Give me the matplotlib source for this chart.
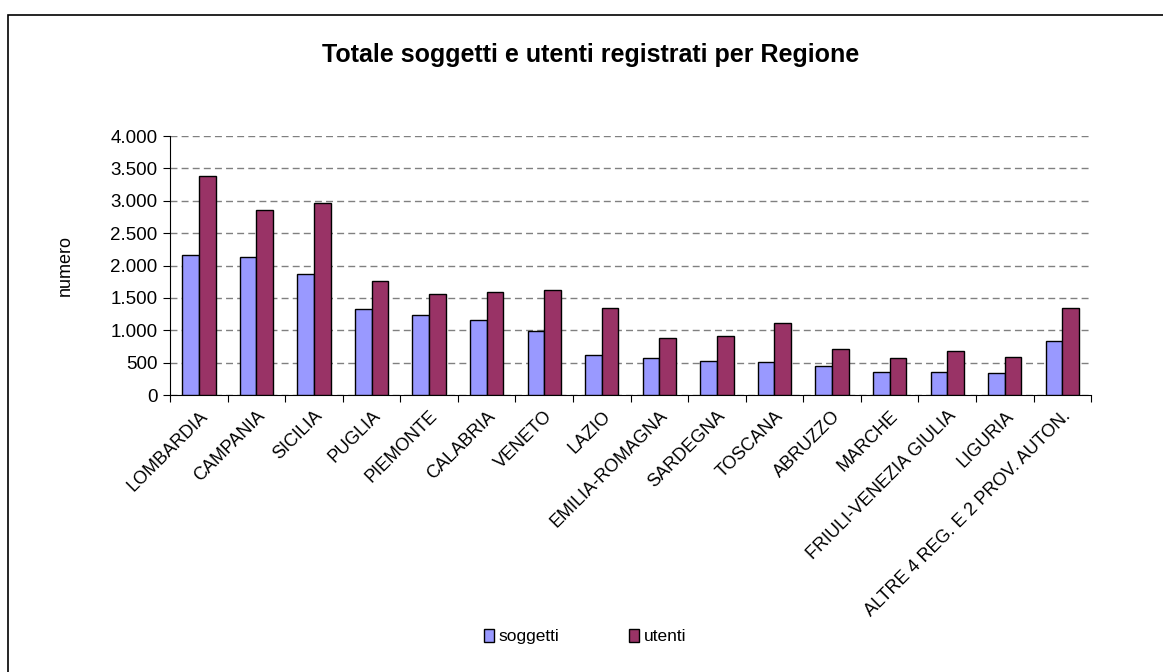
import numpy as np
import matplotlib.pyplot as plt
from matplotlib.ticker import FuncFormatter, FixedLocator
from matplotlib.patches import Rectangle

plt.rcParams['font.family'] = ['Liberation Sans', 'DejaVu Sans']

regioni = ["LOMBARDIA", "CAMPANIA", "SICILIA", "PUGLIA", "PIEMONTE", "CALABRIA",
           "VENETO", "LAZIO", "EMILIA-ROMAGNA", "SARDEGNA", "TOSCANA", "ABRUZZO",
           "MARCHE", "FRIULI-VENEZIA GIULIA", "LIGURIA", "ALTRE 4 REG. E 2 PROV. AUTON."]
soggetti = [2162, 2131, 1869, 1328, 1236, 1158, 993, 623, 566, 530, 515, 453, 360, 360, 340, 829]
utenti = [3387, 2852, 2965, 1756, 1555, 1586, 1622, 1344, 880, 916, 1107, 716, 566, 680, 587, 1344]

fig = plt.figure(figsize=(11.63, 6.72), dpi=100)
ax = fig.add_axes([0.1462, 0.4122, 0.7920, 0.3854])

X = np.arange(len(regioni))
w = 0.29
ax.bar(X - w/2, soggetti, width=w, color='#9999FF', edgecolor='black', linewidth=1, label='soggetti', zorder=3)
ax.bar(X + w/2, utenti, width=w, color='#993366', edgecolor='black', linewidth=1, label='utenti', zorder=3)

ax.set_xlim(-0.5, len(regioni) - 0.5)
ax.set_ylim(0, 4000)
ax.set_yticks(np.arange(0, 4001, 500))
ax.yaxis.set_major_formatter(FuncFormatter(lambda v, p: f"{int(v):,}".replace(",", ".")))
ax.grid(axis='y', color='#808080', linestyle=(0, (5, 3)), linewidth=1, zorder=0)

# category labels centred, ticks on the category boundaries
ax.xaxis.set_major_locator(FixedLocator(np.arange(-0.5, len(regioni), 1)))
ax.xaxis.set_minor_locator(FixedLocator(X))
ax.set_xticklabels([])
ax.set_xticklabels(regioni, minor=True, rotation=45, ha='right', va='top', rotation_mode='anchor')
ax.tick_params(axis='x', which='minor', length=0, pad=9, labelsize=13)
ax.tick_params(axis='x', which='major', length=5, direction='out', color='black')
ax.tick_params(axis='y', length=5, direction='out', labelsize=13.5, pad=4)

ax.spines['top'].set_visible(False)
ax.spines['right'].set_visible(False)
ax.spines['left'].set_color('black')
ax.spines['bottom'].set_color('black')

ax.set_ylabel("numero", fontsize=13, labelpad=26)
fig.text(0.508, 0.918, "Totale soggetti e utenti registrati per Regione",
         ha='center', va='center', fontsize=18, fontweight='bold')

fig.legend(loc='center', bbox_to_anchor=(0.503, 0.053), ncol=2, frameon=False,
           fontsize=12.5, handlelength=0.6, handleheight=0.8, columnspacing=4.0, handletextpad=0.25)

# frame of the chart area (right and bottom edges fall outside the picture)
fig.patches.append(Rectangle((8/1163, -0.05), 1.1, 0.05 + 1 - 15/672, transform=fig.transFigure,
                             fill=False, edgecolor='black', linewidth=1.2))

plt.savefig("out.png", dpi=100)
